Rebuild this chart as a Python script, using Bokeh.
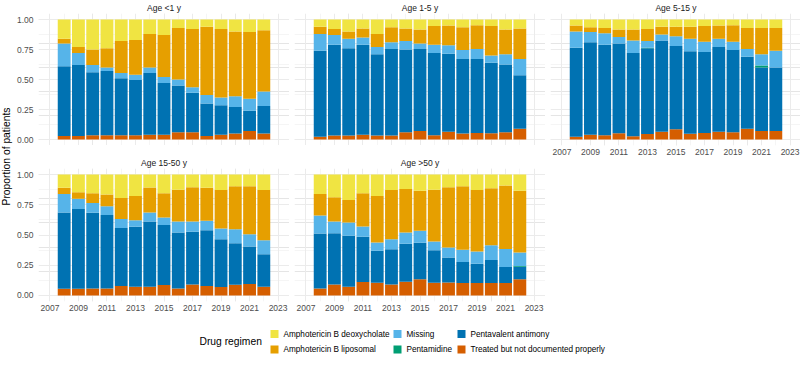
from math import pi

from bokeh.core.properties import value
from bokeh.embed import file_html
from bokeh.layouts import column, row
from bokeh.models import (ColumnDataSource, FixedTicker, Grid, Label, LinearAxis,
                          NumeralTickFormatter, Range1d)
from bokeh.plotting import figure
from bokeh.resources import INLINE

# ---------------------------------------------------------------- data
years = list(range(2008, 2023))
x_ticks = list(range(2007, 2024, 2))
y_ticks = [0.0, 0.25, 0.5, 0.75, 1.0]

# stacking order, bottom to top
regimen_keys = ["treated", "pentavalent", "pentamidine", "missing", "liposomal", "deoxycholate"]
regimen_names = ["Treated but not documented properly", "Pentavalent antimony", "Pentamidine",
                 "Missing", "Amphotericin B liposomal", "Amphotericin B deoxycholate"]
regimen_colors = ["#D55E00", "#0072B2", "#009E73", "#56B4E9", "#E69F00", "#F0E442"]

age_lt1 = dict(
    treated=[0.030, 0.030, 0.035, 0.035, 0.035, 0.035, 0.040, 0.040, 0.060, 0.060, 0.030, 0.040, 0.050, 0.070, 0.050],
    pentavalent=[0.580, 0.590, 0.525, 0.535, 0.475, 0.460, 0.515, 0.430, 0.390, 0.330, 0.270, 0.245, 0.220, 0.170, 0.230],
    pentamidine=[0, 0, 0, 0, 0, 0, 0, 0, 0, 0, 0, 0, 0, 0, 0],
    missing=[0.190, 0.100, 0.060, 0.030, 0.045, 0.045, 0.045, 0.050, 0.050, 0.045, 0.070, 0.065, 0.090, 0.100, 0.120],
    liposomal=[0.040, 0.050, 0.130, 0.160, 0.265, 0.290, 0.280, 0.350, 0.430, 0.485, 0.570, 0.570, 0.540, 0.555, 0.510],
    deoxycholate=[0.160, 0.230, 0.250, 0.240, 0.180, 0.170, 0.120, 0.130, 0.070, 0.080, 0.060, 0.080, 0.100, 0.105, 0.090],
)
age_1_5 = dict(
    treated=[0.022, 0.033, 0.033, 0.040, 0.033, 0.033, 0.060, 0.070, 0.035, 0.064, 0.050, 0.055, 0.053, 0.060, 0.090],
    pentavalent=[0.718, 0.757, 0.727, 0.750, 0.677, 0.722, 0.690, 0.685, 0.685, 0.651, 0.620, 0.615, 0.587, 0.565, 0.445],
    pentamidine=[0, 0, 0, 0, 0, 0, 0, 0, 0, 0, 0, 0, 0, 0, 0],
    missing=[0.140, 0.080, 0.080, 0.060, 0.060, 0.055, 0.070, 0.045, 0.070, 0.070, 0.075, 0.085, 0.060, 0.085, 0.135],
    liposomal=[0.060, 0.050, 0.060, 0.075, 0.110, 0.125, 0.105, 0.117, 0.155, 0.165, 0.190, 0.198, 0.245, 0.207, 0.255],
    deoxycholate=[0.060, 0.080, 0.100, 0.075, 0.120, 0.065, 0.075, 0.083, 0.055, 0.050, 0.065, 0.047, 0.055, 0.083, 0.075],
)
age_5_15 = dict(
    treated=[0.022, 0.040, 0.036, 0.053, 0.028, 0.045, 0.064, 0.086, 0.047, 0.055, 0.064, 0.060, 0.090, 0.070, 0.070],
    pentavalent=[0.743, 0.770, 0.754, 0.747, 0.692, 0.716, 0.761, 0.694, 0.688, 0.675, 0.706, 0.685, 0.600, 0.530, 0.530],
    pentamidine=[0, 0, 0, 0, 0, 0.004, 0, 0, 0, 0, 0, 0, 0, 0.017, 0],
    missing=[0.135, 0.085, 0.095, 0.055, 0.105, 0.055, 0.050, 0.080, 0.105, 0.085, 0.070, 0.070, 0.065, 0.093, 0.140],
    liposomal=[0.050, 0.040, 0.045, 0.062, 0.092, 0.100, 0.065, 0.080, 0.100, 0.130, 0.110, 0.138, 0.175, 0.220, 0.190],
    deoxycholate=[0.050, 0.065, 0.070, 0.083, 0.083, 0.080, 0.060, 0.060, 0.060, 0.055, 0.050, 0.047, 0.070, 0.070, 0.070],
)
age_15_50 = dict(
    treated=[0.055, 0.055, 0.058, 0.058, 0.078, 0.072, 0.072, 0.086, 0.058, 0.090, 0.078, 0.070, 0.089, 0.094, 0.072],
    pentavalent=[0.632, 0.660, 0.626, 0.607, 0.479, 0.496, 0.540, 0.496, 0.462, 0.436, 0.462, 0.395, 0.343, 0.310, 0.268],
    pentamidine=[0, 0, 0, 0, 0, 0, 0, 0, 0, 0, 0, 0, 0, 0, 0],
    missing=[0.153, 0.085, 0.081, 0.072, 0.075, 0.055, 0.075, 0.063, 0.092, 0.086, 0.078, 0.089, 0.116, 0.103, 0.117],
    liposomal=[0.050, 0.053, 0.080, 0.097, 0.174, 0.200, 0.205, 0.200, 0.263, 0.283, 0.272, 0.319, 0.355, 0.396, 0.416],
    deoxycholate=[0.110, 0.147, 0.155, 0.166, 0.194, 0.177, 0.108, 0.155, 0.125, 0.105, 0.110, 0.127, 0.097, 0.097, 0.127],
)
age_gt50 = dict(
    treated=[0.058, 0.090, 0.072, 0.111, 0.105, 0.091, 0.114, 0.133, 0.105, 0.108, 0.102, 0.102, 0.102, 0.102, 0.133],
    pentavalent=[0.454, 0.425, 0.421, 0.374, 0.264, 0.291, 0.313, 0.302, 0.269, 0.205, 0.175, 0.161, 0.192, 0.133, 0.105],
    pentamidine=[0, 0, 0, 0, 0, 0, 0, 0, 0, 0, 0, 0, 0, 0, 0.006],
    missing=[0.150, 0.097, 0.111, 0.085, 0.069, 0.083, 0.093, 0.100, 0.072, 0.083, 0.100, 0.100, 0.122, 0.150, 0.111],
    liposomal=[0.178, 0.200, 0.186, 0.275, 0.385, 0.408, 0.360, 0.332, 0.429, 0.499, 0.526, 0.510, 0.470, 0.524, 0.512],
    deoxycholate=[0.160, 0.188, 0.210, 0.155, 0.177, 0.127, 0.120, 0.133, 0.125, 0.105, 0.097, 0.127, 0.114, 0.091, 0.133],
)

panel_titles = ["Age <1 y", "Age 1-5 y", "Age 5-15 y", "Age 15-50 y", "Age >50 y"]

# ---------------------------------------------------------------- style
FONT = "Liberation Sans"
GRID = "#EBEBEB"
AXIS_TEXT = "#4D4D4D"
STRIP_TEXT = "#1A1A1A"
PANEL_W = 251

x_pad = 0.05 * (x_ticks[-1] - x_ticks[0])
x_minor = [t + 1 for t in x_ticks[:-1]]
y_minor = [t + 0.125 for t in y_ticks[:-1]]


def style_axis(ax, standoff):
    ax.axis_line_color = None
    ax.major_tick_line_color = None
    ax.minor_tick_line_color = None
    ax.major_tick_out = 0
    ax.major_tick_in = 0
    ax.minor_tick_out = 0
    ax.minor_tick_in = 0
    ax.major_label_standoff = standoff
    ax.major_label_text_font = FONT
    ax.major_label_text_font_size = "8.5px"
    ax.major_label_text_color = AXIS_TEXT


def make_panel(title, data, left=False, bottom=False, top=12, fh=132, bl=5, br=0, bb=0):
    src = ColumnDataSource(dict(year=years, **data))
    p = figure(frame_width=PANEL_W, frame_height=fh,
               x_range=Range1d(x_ticks[0] - x_pad, x_ticks[-1] + x_pad),
               y_range=Range1d(-0.05, 1.05),
               x_axis_location=None, y_axis_location=None,
               toolbar_location=None, output_backend="svg",
               min_border_left=bl, min_border_right=br,
               min_border_top=top, min_border_bottom=bb)
    p.outline_line_color = None
    p.background_fill_color = "white"
    p.border_fill_color = "white"

    p.add_layout(Grid(dimension=0, ticker=FixedTicker(ticks=x_ticks, minor_ticks=x_minor),
                      grid_line_color=GRID, grid_line_width=1.0,
                      minor_grid_line_color=GRID, minor_grid_line_width=0.5))
    p.add_layout(Grid(dimension=1, ticker=FixedTicker(ticks=y_ticks, minor_ticks=y_minor),
                      grid_line_color=GRID, grid_line_width=1.0,
                      minor_grid_line_color=GRID, minor_grid_line_width=0.5))

    p.vbar_stack(regimen_keys, x="year", width=0.9, source=src,
                 fill_color=regimen_colors, line_color=None)

    if left:
        ax = LinearAxis(ticker=FixedTicker(ticks=y_ticks),
                        formatter=NumeralTickFormatter(format="0.00"))
        style_axis(ax, 5)
        p.add_layout(ax, "left")
    if bottom:
        ax = LinearAxis(ticker=FixedTicker(ticks=x_ticks))
        style_axis(ax, 3)
        p.add_layout(ax, "below")

    p.title.text = title
    p.title.align = "center"
    p.title.text_font = FONT
    p.title.text_font_size = "8.5px"
    p.title.text_font_style = "normal"
    p.title.text_color = STRIP_TEXT
    p.title.standoff = 1
    p.title.offset = 0
    return p


p1 = make_panel(panel_titles[0], age_lt1, left=True, bl=23)
p2 = make_panel(panel_titles[1], age_1_5)
p3 = make_panel(panel_titles[2], age_5_15, bottom=True, br=1, bb=16)
p4 = make_panel(panel_titles[3], age_15_50, left=True, bottom=True, top=23, fh=133, bl=23, bb=16)
p5 = make_panel(panel_titles[4], age_gt50, bottom=True, top=23, fh=133, bb=16)

ROW_H = 316

# shared y-axis title
ylab = figure(frame_width=13, frame_height=ROW_H, x_range=Range1d(0, 13), y_range=Range1d(0, ROW_H),
              x_axis_location=None, y_axis_location=None, toolbar_location=None,
              output_backend="svg", min_border=0)
ylab.outline_line_color = None
ylab.xgrid.visible = False
ylab.ygrid.visible = False
ylab.add_layout(Label(x=6, y=ROW_H - 156, text="Proportion of patients", angle=pi / 2,
                      text_align="center", text_baseline="middle", text_font=FONT,
                      text_font_size="10.3px", text_color="black"))

# legend strip
LEG_H = 368 - ROW_H
leg = figure(frame_width=800, frame_height=LEG_H, x_range=Range1d(0, 800), y_range=Range1d(LEG_H, 0),
             x_axis_location=None, y_axis_location=None, toolbar_location=None,
             output_backend="svg", min_border=0)
leg.outline_line_color = None
leg.xgrid.visible = False
leg.ygrid.visible = False

order = sorted(range(len(regimen_names)), key=lambda i: regimen_names[i])
col_key_x = [274, 397, 461]
col_text_x = [283, 406, 470]
row_y = [332.5 - ROW_H, 348 - ROW_H]
kx, ky, tx, names, cols = [], [], [], [], []
for n, i in enumerate(order):
    c, r = divmod(n, 2)
    kx.append(col_key_x[c])
    ky.append(row_y[r])
    tx.append(col_text_x[c])
    names.append(regimen_names[i])
    cols.append(regimen_colors[i])
leg.rect(x=kx, y=ky, width=8, height=8, fill_color=cols, line_color=None)
leg.text(x=tx, y=ky, text=names, text_font=value(FONT), text_font_size="8.2px",
         text_baseline="middle", text_align="left", text_color="black")
leg.add_layout(Label(x=199, y=(row_y[0] + row_y[1]) / 2, text="Drug regimen", text_font=FONT,
                     text_font_size="10.3px", text_baseline="middle", text_align="left",
                     text_color="black"))

layout = column(row(ylab, column(p1, p4), column(p2, p5), column(p3)), leg)

open("out.html", "w").write(file_html(layout, INLINE))
